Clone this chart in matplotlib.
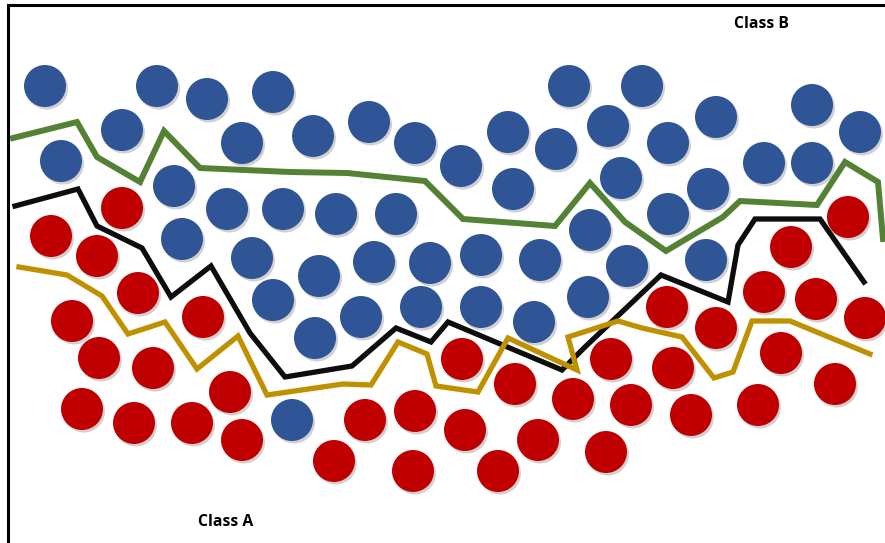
import matplotlib.pyplot as plt
from matplotlib.patches import Circle

# circle centres, read in pixel coordinates (y downwards)
blue_x = [45, 157, 207, 273, 122, 61, 242, 174, 227, 283, 182, 252, 313, 369, 415,
          461, 508, 556, 569, 513, 336, 396, 319, 374, 430, 481, 540, 590, 642, 608,
          668, 716, 812, 860, 621, 764, 812, 708, 668, 627, 706, 273, 361, 421, 481,
          534, 588, 315, 292]
blue_y = [86, 86, 99, 92, 130, 161, 143, 186, 209, 209, 239, 258, 136, 122, 143,
          166, 132, 149, 86, 189, 214, 214, 276, 262, 263, 255, 260, 230, 86, 126,
          143, 117, 105, 132, 178, 163, 163, 189, 214, 266, 260, 300, 317, 307, 307,
          322, 297, 338, 420]

red_x = [122, 51, 97, 138, 72, 203, 99, 153, 230, 82, 134, 192, 242, 462, 415, 365,
         465, 334, 413, 498, 515, 538, 573, 611, 673, 631, 691, 606, 667, 716, 764,
         816, 865, 781, 835, 758, 848, 791]
red_y = [208, 236, 256, 293, 321, 317, 358, 368, 392, 409, 423, 423, 440, 359, 411, 420,
         430, 461, 471, 471, 384, 440, 399, 359, 368, 405, 415, 452, 307, 328, 292,
         299, 318, 353, 384, 405, 217, 247]

# boundary lines
green_x = [13, 77, 97, 140, 164, 200, 290, 347, 425, 463, 555, 590, 625, 666, 723,
           740, 817, 845, 878, 883]
green_y = [138, 122, 157, 182, 131, 168, 172, 173, 181, 219, 226, 183, 222, 251, 217,
           201, 205, 162, 182, 239]

black_x = [15, 78, 97, 142, 171, 211, 250, 285, 352, 396, 431, 448, 562, 585, 661,
           728, 738, 755, 820, 864]
black_y = [206, 189, 226, 248, 297, 266, 333, 377, 366, 328, 342, 322, 370, 347, 275,
           302, 245, 219, 219, 282]

gold_x = [19, 67, 102, 128, 165, 197, 238, 267, 343, 371, 398, 427, 436, 478, 508,
          577, 568, 590, 618, 642, 682, 714, 733, 752, 790, 870]
gold_y = [267, 275, 296, 334, 322, 369, 336, 395, 384, 385, 342, 354, 386, 392, 338,
          370, 337, 330, 321, 328, 337, 378, 372, 321, 321, 354]

W, H = 885, 543
R = 21

fig = plt.figure(figsize=(W / 100, H / 100), dpi=100)
ax = fig.add_axes([0, 0, 1, 1])
ax.set_xlim(0, W)
ax.set_ylim(H, 0)
ax.axis('off')

def dots(xs, ys, color):
    for x, y in zip(xs, ys):
        ax.add_patch(Circle((x + 2, y + 2.5), R, color='#9a9a9a', alpha=0.45, lw=0, zorder=1))
        ax.add_patch(Circle((x, y), R, color=color, lw=0, zorder=2))

dots(blue_x, blue_y, '#2F5597')
dots(red_x, red_y, '#C00000')

ax.plot(green_x, green_y, color='#548235', lw=4.3, solid_joinstyle='miter', zorder=3)
ax.plot(black_x, black_y, color='#0d0d0d', lw=3.8, solid_joinstyle='miter', zorder=3)
ax.plot(gold_x, gold_y, color='#BF9000', lw=3.8, solid_joinstyle='miter', zorder=3)

# frame (left and top only)
ax.plot([8, 8], [5, H], color='black', lw=2.2, zorder=4)
ax.plot([8, W], [5, 5], color='black', lw=2.2, zorder=4)

ax.text(761, 24, 'Class B', fontsize=11.3, fontweight='bold', ha='center', va='center',
        family='Open Sans')
ax.text(226, 522, 'Class A', fontsize=11.3, fontweight='bold', ha='center', va='center',
        family='Open Sans')

fig.savefig('out.png', dpi=100)
